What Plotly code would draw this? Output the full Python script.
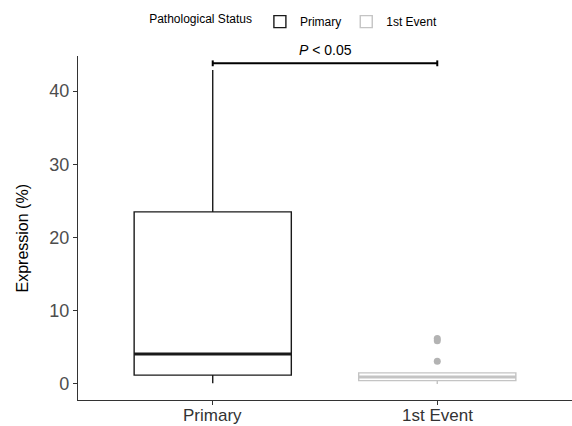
import plotly.graph_objects as go

categories = ["Primary", "1st Event"]
q1 = [1.2, 0.45]
median = [4.1, 0.95]
q3 = [23.5, 1.5]
lowerfence = [0.1, 0.0]
upperfence = [42.9, 1.6]
outliers_event = [3.1, 5.9, 6.2]
line_colors = ["#1a1a1a", "#c4c4c4"]
y_ticks = [0, 10, 20, 30, 40]
p_label = "<i>P</i> < 0.05"
bracket_y = 43.8

BOX_W = 0.7
FONT = "Liberation Sans, Arial, sans-serif"

fig = go.Figure()
for i, cat in enumerate(categories):
    fig.add_trace(go.Box(
        x=[i], q1=[q1[i]], median=[median[i]], q3=[q3[i]],
        lowerfence=[lowerfence[i]], upperfence=[upperfence[i]],
        name=cat, width=BOX_W, boxpoints=False,
        fillcolor="white", line=dict(color=line_colors[i], width=1.4),
        whiskerwidth=0, showlegend=True,
    ))
    fig.add_trace(go.Scatter(
        x=[i - BOX_W / 2, i + BOX_W / 2], y=[median[i], median[i]],
        mode="lines", line=dict(color=line_colors[i], width=3),
        showlegend=False, hoverinfo="skip",
    ))

fig.add_trace(go.Scatter(
    x=[1] * len(outliers_event), y=outliers_event, mode="markers",
    marker=dict(color="#b3b3b3", size=7), showlegend=False,
))

# significance bracket
fig.add_shape(type="line", x0=0, x1=1, y0=bracket_y, y1=bracket_y,
              line=dict(color="black", width=2), xref="x", yref="y")
for xv in [0, 1]:
    fig.add_shape(type="line", x0=xv, x1=xv, y0=bracket_y - 0.4, y1=bracket_y + 0.4,
                  line=dict(color="black", width=2), xref="x", yref="y")
fig.add_annotation(x=0.5, y=bracket_y, text=p_label, showarrow=False,
                   yanchor="bottom", yshift=3, font=dict(size=14, color="black", family=FONT))

# y-axis title
fig.add_annotation(x=-0.113, y=0.47, xref="paper", yref="paper", text="Expression (%)",
                   textangle=-90, showarrow=False, xanchor="center", yanchor="middle",
                   font=dict(size=16, color="black", family=FONT))

# category labels
for i, cat in enumerate(categories):
    fig.add_annotation(x=i, y=0, xref="x", yref="paper", text=cat, showarrow=False,
                       xanchor="center", yanchor="top", yshift=-4,
                       font=dict(size=17, color="#333333", family=FONT))

fig.update_layout(
    width=572, height=426,
    margin=dict(l=78, r=0, t=56, b=26, autoexpand=False),
    plot_bgcolor="white", paper_bgcolor="white",
    font=dict(family=FONT, color="#4d4d4d"),
    showlegend=True,
    legend=dict(orientation="h", x=0.14, xanchor="left", y=1.10, yanchor="middle",
                title=dict(text="Pathological Status", font=dict(size=12, color="black")),
                font=dict(size=12, color="black"), itemwidth=30),
    xaxis=dict(range=[-0.6, 1.6], tickvals=[0, 1], showticklabels=False,
               showgrid=False, zeroline=False, showline=True, linecolor="#333333",
               linewidth=1.2, ticks="outside", ticklen=4, tickcolor="#333333"),
    yaxis=dict(range=[-2.2, 44.8], tickvals=y_ticks, showgrid=False, zeroline=False,
               showline=True, linecolor="#333333", linewidth=1.2, ticks="outside",
               ticklen=4, tickcolor="#333333", tickfont=dict(size=18, color="#4d4d4d")),
)

fig.write_html("out.html", config={"displayModeBar": False},
               post_script="document.body.style.margin='0';")
